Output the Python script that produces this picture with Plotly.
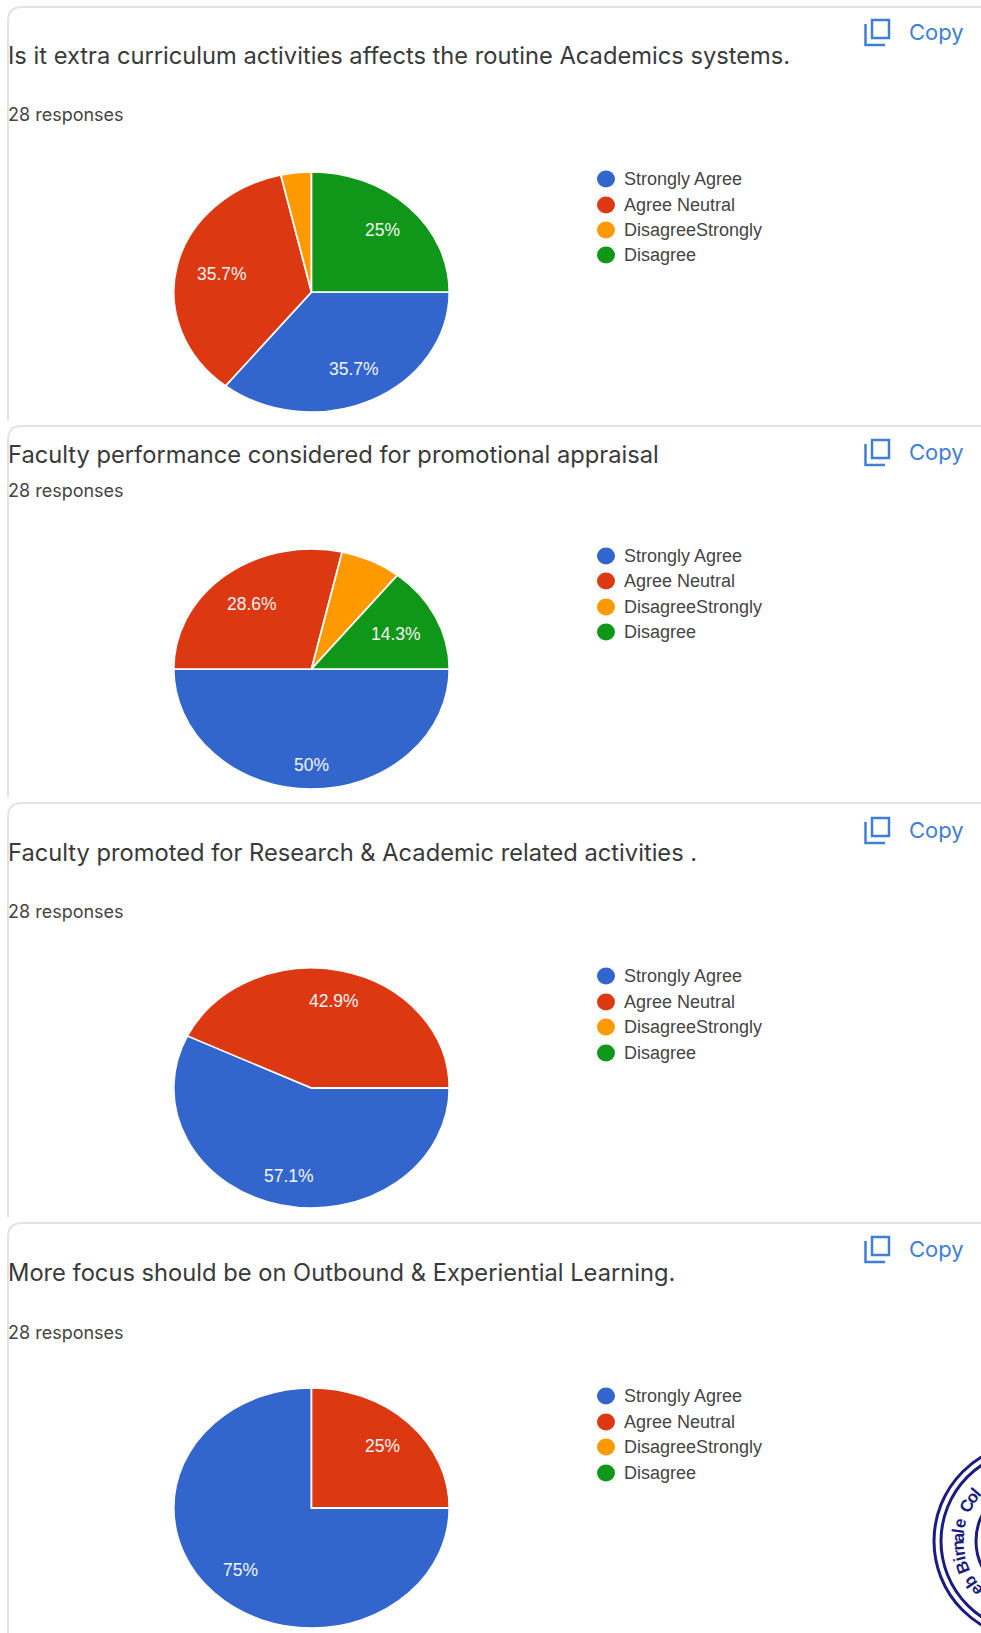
import math
import plotly.graph_objects as go

W, H = 981, 1633

labels = ['Strongly Agree', 'Agree Neutral', 'DisagreeStrongly', 'Disagree']
colors = ['#3366cc', '#dc3912', '#ff9900', '#109618']
questions = ['Is it extra curriculum activities affects the routine Academics systems.',
             'Faculty performance considered for promotional appraisal',
             'Faculty promoted for Research & Academic related activities .',
             'More focus should be on Outbound & Experiential Learning.']
responses = [28, 28, 28, 28]
counts = [[10, 10, 1, 7],
          [14, 8, 2, 4],
          [16, 12, 0, 0],
          [21, 7, 0, 0]]
# how far out each percent label sits, as a share of the radius (0 = no label)
label_r = [[0.71, 0.67, 0, 0.73],
           [0.80, 0.69, 0, 0.68],
           [0.75, 0.74, 0, 0],
           [0.73, 0.73, 0, 0]]

# pixel positions of each card
card_top = [7, 426, 803, 1223]
card_end = [420, 797, 1217, 1633]
pie_y = [292, 669, 1088, 1508]
title_y = [56, 454, 852, 1272]
resp_y = [114, 491, 911, 1332]
copy_y = [32, 452, 830, 1249]
legend_y = [[179, 205, 230, 255], [556, 581, 607, 632], [976, 1002, 1027, 1053], [1396, 1422, 1447, 1473]]
pie_x, pie_r, stretch = 311.5, 120, 1.148


def px(x):
    return x / W


def py(y):
    return 1 - y / H


fig = go.Figure()
shapes = []
notes = []

for i in range(4):
    fig.add_trace(go.Pie(labels=labels, values=counts[i], sort=False, direction='clockwise', rotation=90,
                         textinfo='none',
                         marker=dict(colors=colors, line=dict(color='white', width=1.5)),
                         domain=dict(x=[px(pie_x - pie_r), px(pie_x + pie_r)],
                                     y=[py(pie_y[i] + pie_r), py(pie_y[i] - pie_r)]),
                         showlegend=False))

    # percent labels sit further out than plotly's inside text, so place them by slice mid angle
    done = 0
    for v, r in zip(counts[i], label_r[i]):
        mid = (done + v / 2) / responses[i] * 2 * math.pi
        done += v
        if r > 0:
            notes.append(dict(x=px(pie_x + r * pie_r * stretch * math.cos(mid)),
                              y=py(pie_y[i] + r * pie_r * math.sin(mid)),
                              text=f'{v / responses[i] * 100:.3g}%', xanchor='center', yanchor='middle',
                              font=dict(family='Liberation Sans', size=17.5, color='#f4f4f4')))

    # card outline, open on the right and at the bottom
    t, e = card_top[i], card_end[i]
    shapes.append(dict(type='path', xref='paper', yref='paper',
                       path=f'M {px(8)} {py(e)} L {px(8)} {py(t + 14)} Q {px(8)} {py(t)} {px(22)} {py(t)} L 1 {py(t)}',
                       line=dict(color='#e3e3e3', width=2)))

    notes.append(dict(x=px(6), y=py(title_y[i]), text=questions[i], xanchor='left', yanchor='middle',
                      font=dict(family='Inter', size=23.7, color='#3a3a3a')))
    notes.append(dict(x=px(6), y=py(resp_y[i]), text=f'{responses[i]} responses', xanchor='left', yanchor='middle',
                      font=dict(family='Inter', size=18, color='#444444')))
    notes.append(dict(x=px(907), y=py(copy_y[i]), text='Copy', xanchor='left', yanchor='middle',
                      font=dict(family='Inter', size=22, color='#3f7fd6')))

    # copy icon
    c = copy_y[i]
    shapes.append(dict(type='rect', xref='paper', yref='paper', x0=px(872), x1=px(889), y0=py(c - 12), y1=py(c + 6),
                       line=dict(color='#3f7fd6', width=2.5)))
    shapes.append(dict(type='path', xref='paper', yref='paper',
                       path=f'M {px(865.5)} {py(c - 8)} L {px(865.5)} {py(c + 13)} L {px(885)} {py(c + 13)}',
                       line=dict(color='#3f7fd6', width=2.5)))

    # legend
    for j, name in enumerate(labels):
        y = legend_y[i][j]
        shapes.append(dict(type='circle', xref='paper', yref='paper', x0=px(597), x1=px(615), y0=py(y + 8.5), y1=py(y - 8.5),
                           fillcolor=colors[j], line=dict(width=0)))
        notes.append(dict(x=px(622), y=py(y), text=name, xanchor='left', yanchor='middle',
                          font=dict(family='Liberation Sans', size=18, color='#444444')))

# college stamp cut off by the right edge
stamp_x, stamp_y = 1032, 1541
for r, lw in [(98, 3), (91, 3), (56, 3)]:
    shapes.append(dict(type='circle', xref='paper', yref='paper', x0=px(stamp_x - r), x1=px(stamp_x + r),
                       y0=py(stamp_y + r), y1=py(stamp_y - r), line=dict(color='#1c1c80', width=lw)))

stamp_text = 'eb Birnale Col'
stamp_angle = [-42, -34, 0, -21, -14, -9.5, -3.5, 3, 8, 13.5, 0, 28, 36, 41]
for ch, a in zip(stamp_text, stamp_angle):
    if ch == ' ':
        continue
    rad = math.radians(a)
    notes.append(dict(x=px(stamp_x - 74 * math.cos(rad)), y=py(stamp_y - 74 * math.sin(rad)),
                      text=f'<b>{ch}</b>', xanchor='center', yanchor='middle', textangle=a - 90,
                      font=dict(family='Liberation Sans', size=17, color='#1c1c80')))

for n in notes:
    n.update(xref='paper', yref='paper', showarrow=False)

fig.update_layout(width=W, height=H, margin=dict(l=0, r=0, t=0, b=0), paper_bgcolor='white',
                  shapes=shapes, annotations=notes)

# the screenshot is stretched sideways, so the pies come out as ellipses
stretch_js = """
document.body.style.margin = '0';
document.querySelectorAll('.pielayer .trace').forEach(function (t) {
  t.setAttribute('transform', 'translate(%s,0) scale(%s,1) translate(-%s,0)');
});
""" % (pie_x, stretch, pie_x)

fig.write_html('out.html', post_script=stretch_js, config=dict(displayModeBar=False))
